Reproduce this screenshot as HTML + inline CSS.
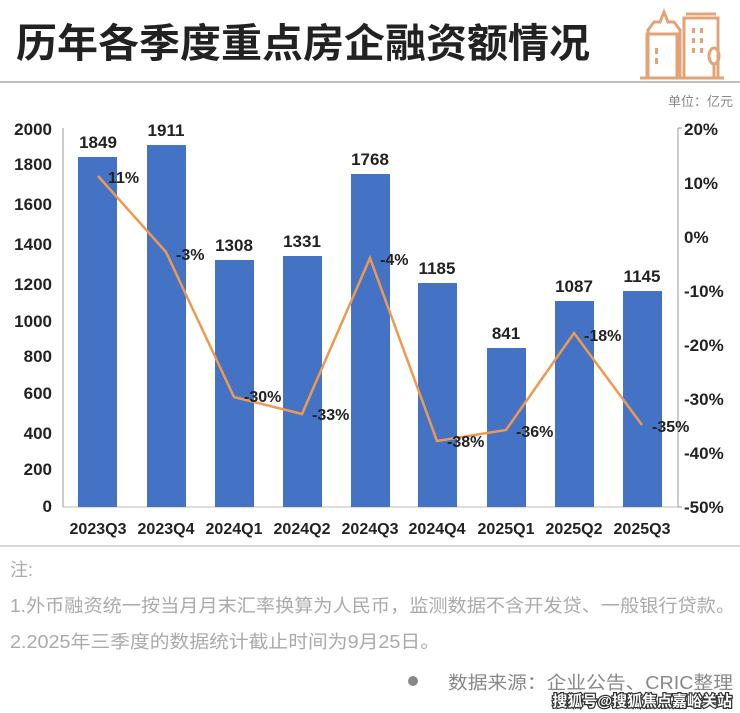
<!DOCTYPE html>
<html><head><meta charset="utf-8"><style>
body{margin:0;background:#fff;}
svg{display:block;font-family:"Liberation Sans","Noto Sans CJK SC",sans-serif;}
</style></head><body>
<svg width="740" height="713" viewBox="0 0 740 713" xmlns="http://www.w3.org/2000/svg">
<text x="16" y="57" font-size="40" font-weight="bold" fill="#222" font-family="Noto Sans CJK SC, sans-serif" textLength="574" lengthAdjust="spacingAndGlyphs">历年各季度重点房企融资额情况</text>
<g fill="none" stroke="#e2a476" stroke-width="3">
<path d="M648 78 V30 L654 22 H660 L664 12 L668 22 H674 L680 30 V78"/>
<rect x="647" y="34" width="30" height="44"/>
<rect x="684" y="18" width="34" height="60"/>
<path d="M686 14 H716"/>
<ellipse cx="714" cy="56" rx="5" ry="8"/><path d="M714 64 V78"/>
<path d="M640 78 H724"/>
</g>
<g fill="#e2a476"><rect x="655" y="48" width="3" height="6"/><rect x="655" y="58" width="3" height="6"/><rect x="692" y="28" width="3" height="5"/><rect x="700" y="28" width="3" height="5"/><rect x="692" y="38" width="3" height="5"/><rect x="700" y="38" width="3" height="5"/><rect x="692" y="48" width="3" height="5"/><rect x="700" y="48" width="3" height="5"/></g>
<line x1="0" y1="82" x2="740" y2="82" stroke="#aaa" stroke-width="1.5"/>
<text x="733" y="106" font-size="13" fill="#888" text-anchor="end">单位：亿元</text>
<g font-size="17" font-weight="bold" fill="#222" text-anchor="end">
<text x="52" y="135">2000</text><text x="52" y="170">1800</text><text x="52" y="210">1600</text><text x="52" y="250">1400</text><text x="52" y="290">1200</text><text x="52" y="327">1000</text><text x="52" y="362">800</text><text x="52" y="399">600</text><text x="52" y="439">400</text><text x="52" y="475">200</text><text x="52" y="512">0</text>
</g>
<g font-size="17" font-weight="bold" fill="#222">
<text x="684" y="135">20%</text><text x="684" y="189">10%</text><text x="684" y="243">0%</text><text x="684" y="297">-10%</text><text x="684" y="351">-20%</text><text x="684" y="405">-30%</text><text x="684" y="459">-40%</text><text x="684" y="513">-50%</text>
</g>
<line x1="63" y1="128" x2="63" y2="507" stroke="#999"/>
<line x1="678" y1="128" x2="678" y2="507" stroke="#999"/>
<g stroke="#999"><line x1="678" y1="128" x2="682" y2="128"/><line x1="678" y1="507" x2="682" y2="507"/></g>
<line x1="63" y1="507" x2="678" y2="507" stroke="#bbb"/>
<g fill="#4472c4">
<rect x="78" y="157" width="39" height="350"/>
<rect x="147" y="145" width="39" height="362"/>
<rect x="215" y="260" width="39" height="247"/>
<rect x="283" y="256" width="39" height="251"/>
<rect x="351" y="174" width="39" height="333"/>
<rect x="418" y="283" width="39" height="224"/>
<rect x="487" y="348" width="39" height="159"/>
<rect x="555" y="301" width="39" height="206"/>
<rect x="623" y="291" width="39" height="216"/>
</g>
<g font-size="17" font-weight="bold" fill="#222" text-anchor="middle">
<text x="98" y="148">1849</text><text x="166" y="136">1911</text><text x="234" y="251">1308</text><text x="302" y="247">1331</text><text x="370" y="165">1768</text><text x="437" y="274">1185</text><text x="506" y="339">841</text><text x="574" y="292">1087</text><text x="642" y="282">1145</text>
</g>
<polyline points="98,176 166,252 234,397 302,414 370,258 437,441 506,430 574,333 642,425" fill="none" stroke="#ec9a52" stroke-width="2.5"/>
<g font-size="16" font-weight="bold" fill="#222">
<text x="108" y="183">11%</text><text x="176" y="260">-3%</text><text x="244" y="402">-30%</text><text x="312" y="420">-33%</text><text x="380" y="265">-4%</text><text x="447" y="447">-38%</text><text x="516" y="437">-36%</text><text x="584" y="341">-18%</text><text x="652" y="432">-35%</text>
</g>
<g font-size="16" font-weight="bold" fill="#222" text-anchor="middle">
<text x="98" y="534">2023Q3</text><text x="166" y="534">2023Q4</text><text x="234" y="534">2024Q1</text><text x="302" y="534">2024Q2</text><text x="370" y="534">2024Q3</text><text x="437" y="534">2024Q4</text><text x="506" y="534">2025Q1</text><text x="574" y="534">2025Q2</text><text x="642" y="534">2025Q3</text>
</g>
<line x1="0" y1="546" x2="740" y2="546" stroke="#ccc" stroke-width="1.5"/>
<g font-size="18" fill="#aaa">
<text x="10" y="576">注:</text>
<text x="10" y="612" textLength="725" lengthAdjust="spacingAndGlyphs">1.外币融资统一按当月月末汇率换算为人民币，监测数据不含开发贷、一般银行贷款。</text>
<text x="10" y="648" textLength="430" lengthAdjust="spacingAndGlyphs">2.2025年三季度的数据统计截止时间为9月25日。</text>
</g>
<circle cx="413" cy="681" r="5" fill="#888"/>
<text x="448" y="689" font-size="18" fill="#888" textLength="285" lengthAdjust="spacingAndGlyphs">数据来源：企业公告、CRIC整理</text>
<text x="732" y="706" font-size="15" font-weight="bold" fill="#fff" stroke="#333" stroke-width="2.5" paint-order="stroke" text-anchor="end">搜狐号@搜狐焦点嘉峪关站</text>
</svg>
</body></html>
